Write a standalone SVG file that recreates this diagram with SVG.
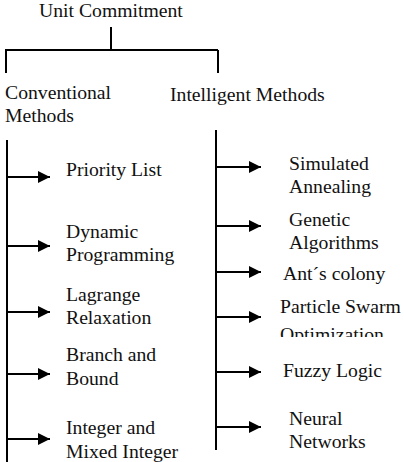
<svg xmlns="http://www.w3.org/2000/svg" width="404" height="462" viewBox="0 0 404 462">
<style>
.ln{stroke:#000;stroke-width:2;fill:none}
.ar{stroke:#000;stroke-width:2;fill:none;marker-end:url(#ah)}
.t{font-family:'Liberation Serif',serif;font-size:19.7px;fill:#111}
</style>
<defs>
<marker id="ah" markerUnits="userSpaceOnUse" markerWidth="13" markerHeight="12" refX="12" refY="6" orient="auto">
<path d="M0,0 L12,6 L0,12 Z" fill="#000"/>
</marker>
<clipPath id="cAnt"><rect x="270" y="266" width="134" height="30"/></clipPath>
<clipPath id="cPso"><rect x="270" y="290" width="134" height="47"/></clipPath>
<clipPath id="cSa"><rect x="270" y="145" width="134" height="52"/></clipPath>
</defs>
<g id="connectors">
<path class="ln" d="M111,27 V50 M5,50 H218 M6,50 V73 M218,50 V73"/>
<path class="ln" d="M7,140 V462"/>
<path class="ln" d="M216,130 V450"/>
<path class="ar" d="M7,177 H50"/>
<path class="ar" d="M7,246 H50"/>
<path class="ar" d="M7,312 H50"/>
<path class="ar" d="M7,374 H50"/>
<path class="ar" d="M7,439 H50"/>
<path class="ar" d="M216,167 H261"/>
<path class="ar" d="M216,226 H261"/>
<path class="ar" d="M216,272 H261"/>
<path class="ar" d="M216,317 H261"/>
<path class="ar" d="M216,372 H261"/>
<path class="ar" d="M216,427 H261"/>
</g>
<g class="t">
<g id="root"><text x="39" y="17">Unit Commitment</text></g>
<g id="conventional"><text x="5" y="99">Conventional</text><text x="5" y="122">Methods</text></g>
<g id="intelligent"><text x="170" y="101">Intelligent Methods</text></g>
<g id="priority"><text x="66" y="176">Priority List</text></g>
<g id="dynamic"><text x="66" y="238">Dynamic</text><text x="66" y="261">Programming</text></g>
<g id="lagrange"><text x="66" y="301">Lagrange</text><text x="66" y="324">Relaxation</text></g>
<g id="branch"><text x="66" y="361">Branch and</text><text x="66" y="385">Bound</text></g>
<g id="integer"><text x="66" y="434">Integer and</text><text x="66" y="458">Mixed Integer</text></g>
<g id="sa" clip-path="url(#cSa)"><text x="289" y="170">Simulated</text><text x="289" y="193">Annealing</text></g>
<g id="ga"><text x="289" y="226">Genetic</text><text x="289" y="249">Algorithms</text></g>
<g id="ant" clip-path="url(#cAnt)"><text x="283" y="280">Ant´s colony</text></g>
<g id="pso" clip-path="url(#cPso)"><text x="280" y="313">Particle Swarm</text><text x="280" y="341">Optimization</text></g>
<g id="fuzzy"><text x="283" y="377">Fuzzy Logic</text></g>
<g id="neural"><text x="289" y="425">Neural</text><text x="289" y="448">Networks</text></g>
</g>
</svg>
